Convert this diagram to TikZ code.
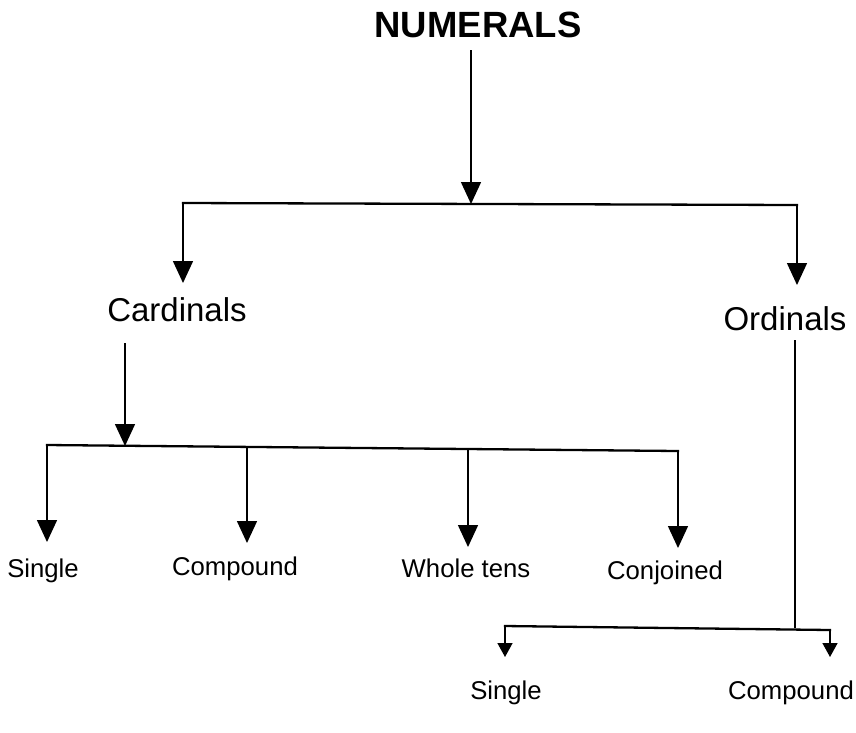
\documentclass[tikz,border=0pt]{standalone}
\usepackage{fontspec}
\setmainfont{Liberation Sans}
\usetikzlibrary{arrows.meta}
\begin{document}
\begin{tikzpicture}[x=1pt,y=-1pt,
  arr/.style={line width=1.5pt,-{Triangle[width=20pt,length=22pt]}},
  sarr/.style={line width=1.5pt,-{Triangle[width=15pt,length=14pt]}},
  bar/.style={line width=2.3pt,line cap=rect},
  vline/.style={line width=2.2pt},
  lab/.style={anchor=base,inner sep=0pt,font=\fontsize{25.7}{30}\selectfont},
  mid/.style={anchor=base,inner sep=0pt,font=\fontsize{33}{38}\selectfont},
  top/.style={anchor=base,inner sep=0pt,font=\fontsize{36.5}{42}\selectfont\bfseries}]
\useasboundingbox (0,0) rectangle (856,732);
% texts
\node[top] (num) at (478,37) {NUMERALS};
\node[mid] (card) at (177,321) {Cardinals};
\node[mid] (ord) at (785,330) {Ordinals};
\node[lab] (s1) at (43,577) {Single};
\node[lab] (c1) at (235,575) {Compound};
\node[lab] (w1) at (466,577) {Whole tens};
\node[lab] (j1) at (665,579) {Conjoined};
\node[lab] (s2) at (506,699) {Single};
\node[lab] (c2) at (791,699) {Compound};
% coordinates
\coordinate (numout) at (471,50);
\coordinate (b1c) at (471,204);
\coordinate (b1L) at (183,203);
\coordinate (b1R) at (797,205);
\coordinate (cardin) at (183,283);
\coordinate (ordin) at (797,285);
\coordinate (cardout) at (125,343);
\coordinate (b2c) at (125,446);
\coordinate (b2L) at (47,445);
\coordinate (b2a) at (247,446);
\coordinate (b2b) at (468,448);
\coordinate (b2R) at (678,451);
\coordinate (s1in) at (47,542);
\coordinate (c1in) at (247,543);
\coordinate (w1in) at (468,547);
\coordinate (j1in) at (678,548);
\coordinate (ordout) at (795,340);
\coordinate (b3c) at (795,628);
\coordinate (b3L) at (505,626);
\coordinate (b3R) at (830,630);
\coordinate (s2in) at (505,657);
\coordinate (c2in) at (830,657);
% connectors
\draw[arr] (numout) -- (b1c);
\draw[bar] (b1L) -- (b1R);
\draw[arr] (b1L) -- (cardin);
\draw[arr] (b1R) -- (ordin);
\draw[arr] (cardout) -- (b2c);
\draw[bar] (b2L) -- (b2R);
\draw[arr] (b2L) -- (s1in);
\draw[arr] (b2a) -- (c1in);
\draw[arr] (b2b) -- (w1in);
\draw[arr] (b2R) -- (j1in);
\draw[vline] (ordout) -- (b3c);
\draw[bar] (b3L) -- (b3R);
\draw[sarr] (b3L) -- (s2in);
\draw[sarr] (b3R) -- (c2in);
\end{tikzpicture}
\end{document}
